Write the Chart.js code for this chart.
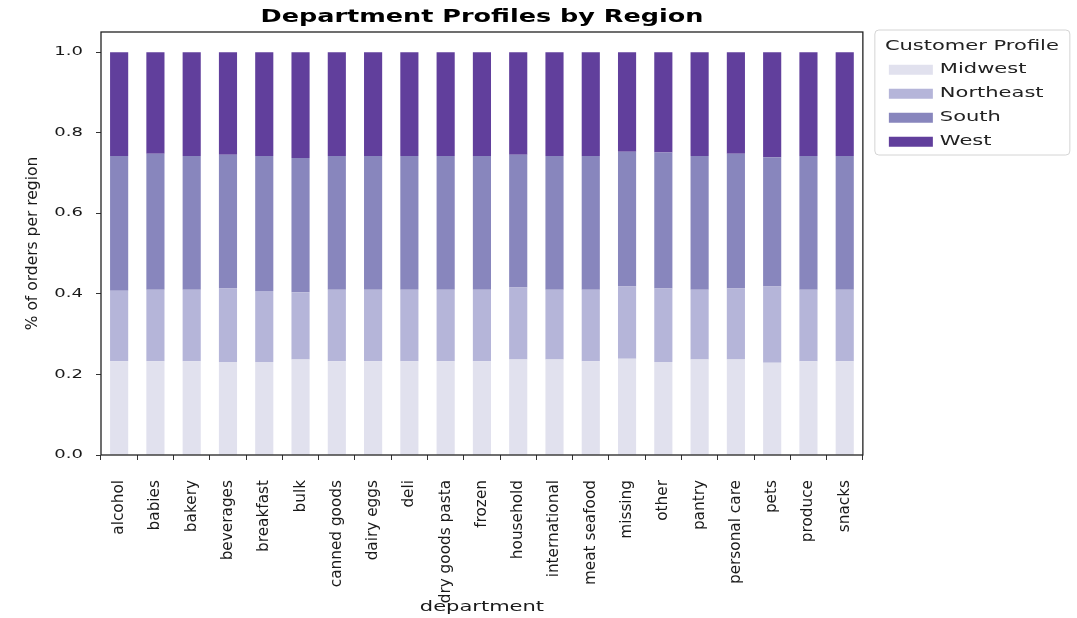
<!DOCTYPE html>
<html>
<head>
<meta charset="utf-8">
<title>Department Profiles by Region</title>
<script src="https://cdn.jsdelivr.net/npm/chart.js@4/dist/chart.umd.min.js"></script>
<style>
  html, body { margin: 0; padding: 0; background: #fff; }
  #wrap { width: 1077px; height: 618px; position: relative; }
</style>
</head>
<body>
<div id="wrap"><canvas id="chart"></canvas></div>
<script>
// data (share of orders per region, stacked to 1.0)
const departments = ['alcohol', 'babies', 'bakery', 'beverages', 'breakfast', 'bulk', 'canned goods',
  'dairy eggs', 'deli', 'dry goods pasta', 'frozen', 'household', 'international', 'meat seafood',
  'missing', 'other', 'pantry', 'personal care', 'pets', 'produce', 'snacks'];
const regions = ['Midwest', 'Northeast', 'South', 'West'];
const midwest   = [0.233, 0.233, 0.233, 0.231, 0.231, 0.237, 0.233, 0.233, 0.233, 0.233, 0.233, 0.237, 0.237, 0.233, 0.239, 0.231, 0.237, 0.237, 0.229, 0.233, 0.233];
const northeast = [0.175, 0.177, 0.177, 0.182, 0.176, 0.167, 0.177, 0.177, 0.177, 0.177, 0.177, 0.179, 0.173, 0.177, 0.179, 0.182, 0.173, 0.176, 0.189, 0.177, 0.177];
const south     = [0.334, 0.338, 0.332, 0.332, 0.335, 0.333, 0.332, 0.332, 0.332, 0.332, 0.332, 0.329, 0.332, 0.332, 0.335, 0.338, 0.332, 0.335, 0.321, 0.332, 0.332];
const west      = [0.258, 0.252, 0.258, 0.255, 0.258, 0.263, 0.258, 0.258, 0.258, 0.258, 0.258, 0.255, 0.258, 0.258, 0.247, 0.249, 0.258, 0.252, 0.261, 0.258, 0.258];
const yTicks = [0, 0.2, 0.4, 0.6, 0.8, 1.0];

const colors = ['#e1e1ee', '#b5b5d9', '#8886bd', '#613f9c'];
const FONT = 'DejaVu Sans';

const canvas = document.getElementById('chart');
const ctx = canvas.getContext('2d');

// horizontal text in the reference is stretched sideways; rotated text is not
const STRETCH = 1.5;
const plainFillText = ctx.fillText.bind(ctx);
ctx.fillText = function (text, x, y, maxWidth) {
  const m = ctx.getTransform();
  if (m.b !== 0 || m.c !== 0) {
    return maxWidth === undefined ? plainFillText(text, x, y) : plainFillText(text, x, y, maxWidth);
  }
  ctx.save();
  ctx.translate(x, y);
  ctx.scale(STRETCH, 1);
  plainFillText(text, 0, 0);
  ctx.restore();
};

// matplotlib look: title over the axes, legend out to the right, full frame
const layoutFix = {
  id: 'layoutFix',
  afterLayout(chart) {
    const area = chart.chartArea;
    chart.titleBlock.left = area.left;
    chart.titleBlock.right = area.right;
    const lg = chart.legend;
    lg.left = area.right + 16;
    lg.width = 186;
    lg.right = lg.left + lg.width;
    lg.top = area.top;
    lg.bottom = area.bottom;
    lg.height = area.bottom - area.top;
  },
  afterDatasetsDraw(chart) {
    const a = chart.chartArea;
    const c = chart.ctx;
    c.save();
    c.strokeStyle = '#222';
    c.lineWidth = 1.3;
    c.strokeRect(a.left, a.top, a.right - a.left, a.bottom - a.top);
    c.restore();
  },
  afterDraw(chart) {
    const lg = chart.legend;
    const c = chart.ctx;
    c.save();
    c.strokeStyle = '#d4d4d4';
    c.lineWidth = 1;
    c.beginPath();
    c.roundRect(lg.left - 4, lg.top - 2, lg.width + 9, 125, 4);
    c.stroke();
    c.restore();
  }
};

const seriesValues = [midwest, northeast, south, west];

new Chart(ctx, {
  type: 'bar',
  data: {
    labels: departments,
    datasets: regions.map((name, i) => ({
      label: name,
      data: seriesValues[i],
      backgroundColor: colors[i],
      borderWidth: 0,
      barPercentage: 0.5,
      categoryPercentage: 1.0
    }))
  },
  options: {
    responsive: true,
    maintainAspectRatio: false,
    animation: false,
    layout: { padding: { left: 10, right: 74, top: 0, bottom: 0 } },
    plugins: {
      title: {
        display: true,
        text: 'Department Profiles by Region',
        color: '#000',
        font: { family: FONT, size: 17, weight: 'bold' },
        padding: { top: 7, bottom: 4.6 }
      },
      legend: {
        position: 'right',
        align: 'start',
        title: {
          display: true,
          text: 'Customer Profile',
          color: '#222',
          font: { family: FONT, size: 14 },
          padding: { top: 7, bottom: -3 }
        },
        labels: {
          boxWidth: 44,
          boxHeight: 10,
          padding: 10,
          color: '#222',
          font: { family: FONT, size: 14 }
        }
      },
      tooltip: { enabled: false }
    },
    scales: {
      x: {
        stacked: true,
        offset: true,
        border: { display: false },
        grid: { display: true, drawOnChartArea: false, drawTicks: true, tickLength: 5, color: '#333' },
        afterFit(scale) {
          scale.height = 163;
        },
        ticks: {
          autoSkip: false,
          minRotation: 90,
          maxRotation: 90,
          padding: 20,
          color: '#1a1a1a',
          font: { family: FONT, size: 15.3 }
        },
        title: {
          display: true,
          text: 'department',
          color: '#1a1a1a',
          font: { family: FONT, size: 14 },
          padding: { top: 0, bottom: 2.6 }
        }
      },
      y: {
        stacked: true,
        min: 0,
        max: 1.05,
        border: { display: false },
        grid: { display: true, drawOnChartArea: false, drawTicks: true, tickLength: 5, color: '#333' },
        afterBuildTicks(scale) {
          scale.ticks = yTicks.map(v => ({ value: v }));
        },
        afterFit(scale) {
          scale.width = 91;
        },
        ticks: {
          padding: 13,
          color: '#1a1a1a',
          font: { family: FONT, size: 12 },
          callback: v => Number(v).toFixed(1)
        },
        title: {
          display: true,
          text: '% of orders per region',
          color: '#1a1a1a',
          font: { family: FONT, size: 15.5 },
          padding: { top: 14, bottom: 5 }
        }
      }
    }
  },
  plugins: [layoutFix]
});
</script>
</body>
</html>
